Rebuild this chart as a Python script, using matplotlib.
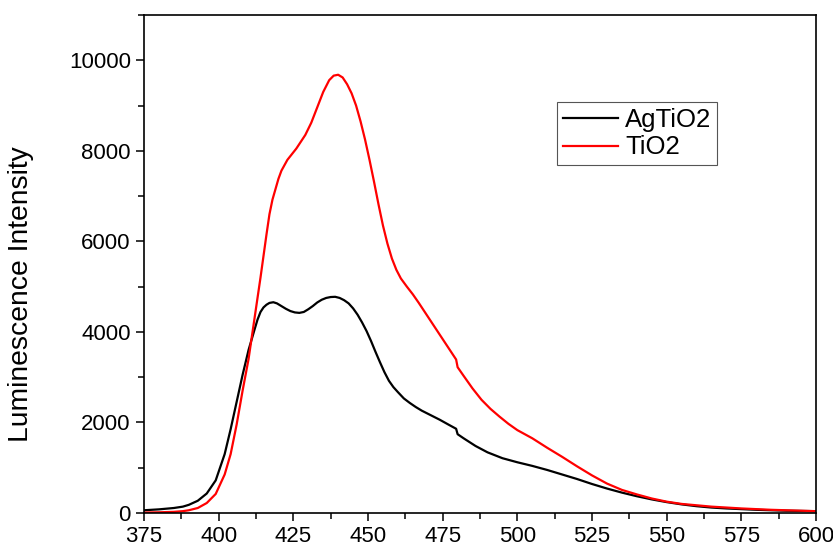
import matplotlib
matplotlib.use("Agg")
import matplotlib.pyplot as plt
from matplotlib.ticker import MultipleLocator

plt.rcParams['font.family'] = ['Liberation Sans', 'DejaVu Sans']

# wavelength (nm) and intensity for each sample
wl_ag = [375, 380, 385, 388, 390, 393, 396, 399, 402, 404, 406, 408, 410, 412,
         413, 414, 415, 416, 417, 418.3, 419.5, 421, 422.5, 424, 425.5, 427, 428.5,
         430, 431.5, 433, 434.5, 436, 437.5, 439, 440.5, 442, 443.5, 445, 446.5,
         448, 449.5, 451, 452.5, 454, 455.5, 457, 458.5, 460, 462, 464, 466, 468,
         471, 474, 477, 479.5, 480, 482, 486, 490, 495, 500, 505, 510, 515, 520,
         525, 530, 535, 540, 545, 550, 555, 560, 565, 570, 575, 580, 585, 590,
         595, 600]
int_ag = [60, 80, 110, 140, 180, 270, 430, 720, 1300, 1850, 2450, 3050, 3600, 4050,
          4270, 4440, 4540, 4600, 4640, 4655, 4630, 4570, 4510, 4460, 4430, 4420, 4440,
          4500, 4570, 4650, 4710, 4750, 4770, 4775, 4750, 4700, 4630, 4520, 4380,
          4210, 4020, 3800, 3560, 3330, 3110, 2920, 2780, 2670, 2530, 2430, 2340, 2260,
          2160, 2060, 1950, 1860, 1740, 1650, 1480, 1340, 1210, 1120, 1040, 950, 850, 750,
          640, 540, 450, 370, 300, 240, 190, 150, 120, 100, 85, 70, 60, 50,
          45, 40]

wl_ti = [375, 380, 385, 388, 390, 393, 396, 399, 402, 404, 406, 408, 410, 412,
         414, 416, 417, 418, 419, 420, 421, 423, 426, 429, 431, 433, 435, 437,
         438.5, 440, 441.5, 443, 444.5, 446, 447.5, 449, 450.5, 452, 453.5, 455,
         456.5, 458, 459.5, 461, 463, 465, 467, 469, 471, 473, 475, 477, 479.5,
         480, 482, 485, 488, 491, 494, 497, 500, 505, 510, 515, 520, 525, 530,
         535, 540, 545, 550, 555, 560, 565, 570, 575, 580, 585, 590, 595, 600]
int_ti = [10, 15, 25, 40, 60, 110, 220, 420, 850, 1300, 1950, 2700, 3400, 4300,
          5200, 6150, 6600, 6920, 7150, 7380, 7560, 7800, 8050, 8350, 8620, 8960, 9300, 9560,
          9660, 9680, 9620, 9470, 9270, 9000, 8650, 8250, 7800, 7320, 6820, 6350,
          5950, 5620, 5370, 5180, 5000, 4830, 4640, 4440, 4240, 4040, 3840, 3640, 3390,
          3220, 3030, 2750, 2500, 2300, 2130, 1970, 1830, 1650, 1440, 1240, 1030, 830, 650,
          510, 410, 320, 250, 200, 170, 140, 120, 100, 85, 70, 60, 50, 40]

fig = plt.figure(figsize=(8.33, 5.47), dpi=100)
ax = fig.add_axes([0.1729, 0.0622, 0.8067, 0.9104])

ax.plot(wl_ag, int_ag, color='black', lw=1.6, label='AgTiO2')
ax.plot(wl_ti, int_ti, color='red', lw=1.6, label='TiO2')

ax.set_xlim(375, 600)
ax.set_ylim(0, 11000)
ax.xaxis.set_major_locator(MultipleLocator(25))
ax.xaxis.set_minor_locator(MultipleLocator(12.5))
ax.yaxis.set_major_locator(MultipleLocator(2000))
ax.yaxis.set_minor_locator(MultipleLocator(1000))
ax.tick_params(which='both', direction='out', width=1.1, labelsize=16,
               top=False, right=False)
ax.tick_params(which='major', length=6)
ax.tick_params(which='minor', length=4)
for sp in ax.spines.values():
    sp.set_linewidth(1.2)

ax.set_ylabel('Luminescence Intensity', fontsize=20.3)
ax.yaxis.set_label_coords(-0.163, 0.44)

leg = ax.legend(loc='upper left', bbox_to_anchor=(0.6146, 0.8253), fontsize=18.5,
                fancybox=False, framealpha=1, edgecolor='#555555',
                handlelength=2.15, handletextpad=0.28, borderpad=0.22,
                labelspacing=0.15, borderaxespad=0)
leg.get_frame().set_linewidth(0.8)

fig.savefig('out.png', dpi=100)
